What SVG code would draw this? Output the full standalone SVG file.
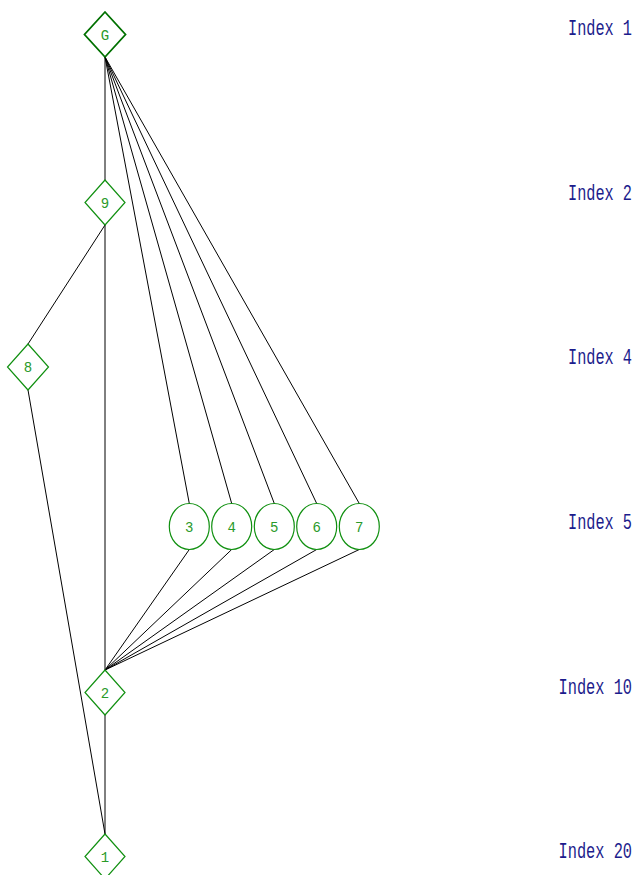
<svg xmlns="http://www.w3.org/2000/svg" width="637" height="875" viewBox="0 0 637 875">
<style>
.nd{fill:none;stroke:#109010;stroke-width:1.2}
.ndg{fill:none;stroke:#007000;stroke-width:1.8}
.lb{font-family:"Liberation Mono",monospace;font-size:14px;fill:#2a9a2a;text-anchor:middle}
.ix{font-family:"Liberation Mono",monospace;font-size:22px;fill:#1c1c8c;text-anchor:end}
.e{stroke:#000;stroke-width:1;fill:none}
</style>
<rect width="637" height="875" fill="#fff"/>
<g id="edges">
<line class="e" x1="105" y1="57" x2="105" y2="180"/>
<line class="e" x1="105" y1="57" x2="189.3" y2="503.5"/>
<line class="e" x1="105" y1="57" x2="231.7" y2="503.5"/>
<line class="e" x1="105" y1="57" x2="274.3" y2="503.5"/>
<line class="e" x1="105" y1="57" x2="316.7" y2="503.5"/>
<line class="e" x1="105" y1="57" x2="359.3" y2="503.5"/>
<line class="e" x1="105" y1="225" x2="105" y2="670"/>
<line class="e" x1="105" y1="225" x2="28" y2="344"/>
<line class="e" x1="28" y1="390" x2="105" y2="834"/>
<line class="e" x1="189.3" y1="549.5" x2="105" y2="670"/>
<line class="e" x1="231.7" y1="549.5" x2="105" y2="670"/>
<line class="e" x1="274.3" y1="549.5" x2="105" y2="670"/>
<line class="e" x1="316.7" y1="549.5" x2="105" y2="670"/>
<line class="e" x1="359.3" y1="549.5" x2="105" y2="670"/>
<line class="e" x1="105" y1="715" x2="105" y2="834"/>
</g>
<g id="nG"><polygon class="ndg" points="105,12 125.5,34.5 105,57 84.5,34.5"/><text class="lb" x="105" y="39.5">G</text></g>
<g id="n9"><polygon class="nd" points="105,180 125,202.5 105,225 85,202.5"/><text class="lb" x="105" y="207.5">9</text></g>
<g id="n8"><polygon class="nd" points="28,344 48.5,367 28,390 7.5,367"/><text class="lb" x="28" y="372">8</text></g>
<g id="n3"><ellipse class="nd" cx="189.3" cy="526.5" rx="20" ry="23"/><text class="lb" x="189.3" y="531.5">3</text></g>
<g id="n4"><ellipse class="nd" cx="231.7" cy="526.5" rx="20" ry="23"/><text class="lb" x="231.7" y="531.5">4</text></g>
<g id="n5"><ellipse class="nd" cx="274.3" cy="526.5" rx="20" ry="23"/><text class="lb" x="274.3" y="531.5">5</text></g>
<g id="n6"><ellipse class="nd" cx="316.7" cy="526.5" rx="20" ry="23"/><text class="lb" x="316.7" y="531.5">6</text></g>
<g id="n7"><ellipse class="nd" cx="359.3" cy="526.5" rx="20" ry="23"/><text class="lb" x="359.3" y="531.5">7</text></g>
<g id="n2"><polygon class="nd" points="105,670 125,692.5 105,715 85,692.5"/><text class="lb" x="105" y="697.5">2</text></g>
<g id="n1"><polygon class="nd" points="105,834 125,856.5 105,879 85,856.5"/><text class="lb" x="105" y="861.5">1</text></g>
<g id="index">
<text class="ix" transform="translate(632,35) scale(0.693,1)">Index 1</text>
<text class="ix" transform="translate(632,200) scale(0.693,1)">Index 2</text>
<text class="ix" transform="translate(632,364) scale(0.693,1)">Index 4</text>
<text class="ix" transform="translate(632,529) scale(0.693,1)">Index 5</text>
<text class="ix" transform="translate(632,694) scale(0.696,1)">Index 10</text>
<text class="ix" transform="translate(632,858) scale(0.696,1)">Index 20</text>
</g>
</svg>
